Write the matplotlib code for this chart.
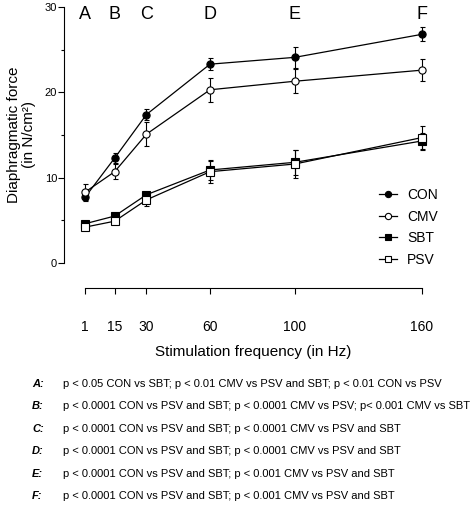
import numpy as np
import matplotlib
matplotlib.use('Agg')
import matplotlib.pyplot as plt
from matplotlib.ticker import MultipleLocator
from matplotlib.lines import Line2D

plt.rcParams['font.family'] = ['Liberation Sans', 'DejaVu Sans']

# data (mean +/- error)
freq = [1, 15, 30, 60, 100, 160]
freq_labels = ['1', '15', '30', '60', '100', '160']
letters = ['A', 'B', 'C', 'D', 'E', 'F']

con = [7.7, 12.3, 17.4, 23.3, 24.1, 26.8]
con_err = [0.3, 0.6, 0.6, 0.7, 1.2, 0.8]
cmv = [8.3, 10.7, 15.1, 20.3, 21.3, 22.6]
cmv_err = [1.0, 0.9, 1.4, 1.4, 1.4, 1.3]
sbt = [4.6, 5.5, 8.0, 10.9, 11.8, 14.3]
sbt_err = [0.2, 0.3, 0.3, 1.2, 1.5, 0.9]
psv = [4.2, 4.9, 7.4, 10.7, 11.6, 14.7]
psv_err = [0.2, 0.3, 0.7, 1.3, 1.6, 1.4]

stats = [
    'p < 0.05 CON vs SBT; p < 0.01 CMV vs PSV and SBT; p < 0.01 CON vs PSV',
    'p < 0.0001 CON vs PSV and SBT; p < 0.0001 CMV vs PSV; p< 0.001 CMV vs SBT',
    'p < 0.0001 CON vs PSV and SBT; p < 0.0001 CMV vs PSV and SBT',
    'p < 0.0001 CON vs PSV and SBT; p < 0.0001 CMV vs PSV and SBT',
    'p < 0.0001 CON vs PSV and SBT; p < 0.001 CMV vs PSV and SBT',
    'p < 0.0001 CON vs PSV and SBT; p < 0.001 CMV vs PSV and SBT',
]

W, H = 472, 513
fig = plt.figure(figsize=(W / 100, H / 100), dpi=100)
ax = fig.add_axes([64 / W, 1 - 263 / H, (440 - 64) / W, (263 - 7) / H])

series = [
    ('CON', con, con_err, 'o', 'black'),
    ('CMV', cmv, cmv_err, 'o', 'white'),
    ('SBT', sbt, sbt_err, 's', 'black'),
    ('PSV', psv, psv_err, 's', 'white'),
]
handles = []
for name, y, e, m, fc in series:
    ax.errorbar(freq, y, yerr=e, color='black', lw=0.9, elinewidth=0.8,
                capsize=1.8, capthick=0.8, marker=m, markersize=5.2,
                markerfacecolor=fc, markeredgecolor='black', markeredgewidth=0.8,
                clip_on=False)
    handles.append(Line2D([], [], color='black', lw=0.9, marker=m, markersize=4.5,
                          markerfacecolor=fc, markeredgecolor='black',
                          markeredgewidth=0.8, label=name))

ax.set_xlim(-8.9, 168.5)
ax.set_ylim(0, 30)

for sp in ['top', 'right']:
    ax.spines[sp].set_visible(False)
ax.spines['left'].set_linewidth(0.8)
ax.spines['bottom'].set_linewidth(0.8)
ax.spines['bottom'].set_position(('outward', 18))
ax.spines['bottom'].set_bounds(1, 160)

ax.set_xticks(freq)
ax.set_xticklabels(freq_labels, fontsize=10)
ax.tick_params(axis='x', direction='out', length=4, width=0.8, pad=19)
ax.yaxis.set_major_locator(MultipleLocator(10))
ax.yaxis.set_minor_locator(MultipleLocator(5))
ax.tick_params(axis='y', which='major', direction='out', length=4, width=0.8,
               labelsize=8, pad=1)
ax.tick_params(axis='y', which='minor', direction='out', length=2.5, width=0.8)

for fx, lt in zip(freq, letters):
    ax.text(fx, 29.1, lt, ha='center', va='center', fontsize=13)

ax.set_ylabel('Diaphragmatic force\n(in N/cm²)', fontsize=11, labelpad=6,
              linespacing=1.1)
fig.text(253 / W, 1 - 352 / H, 'Stimulation frequency (in Hz)', ha='center',
         va='center', fontsize=11)

ax.legend(handles=handles, loc='upper left', bbox_to_anchor=(0.838, 0.2935),
          frameon=False, fontsize=10, handlelength=1.3, handletextpad=0.7,
          labelspacing=0.55, borderaxespad=0, borderpad=0)

row_y = np.linspace(384, 496, len(letters))
for lt, s, yy in zip(letters, stats, row_y):
    fig.text(32 / W, 1 - yy / H, lt + ':', ha='left', va='center',
             fontsize=8, fontweight='bold', fontstyle='italic')
    fig.text(63 / W, 1 - yy / H, s, ha='left', va='center', fontsize=8)

fig.savefig('out.png', dpi=100)
